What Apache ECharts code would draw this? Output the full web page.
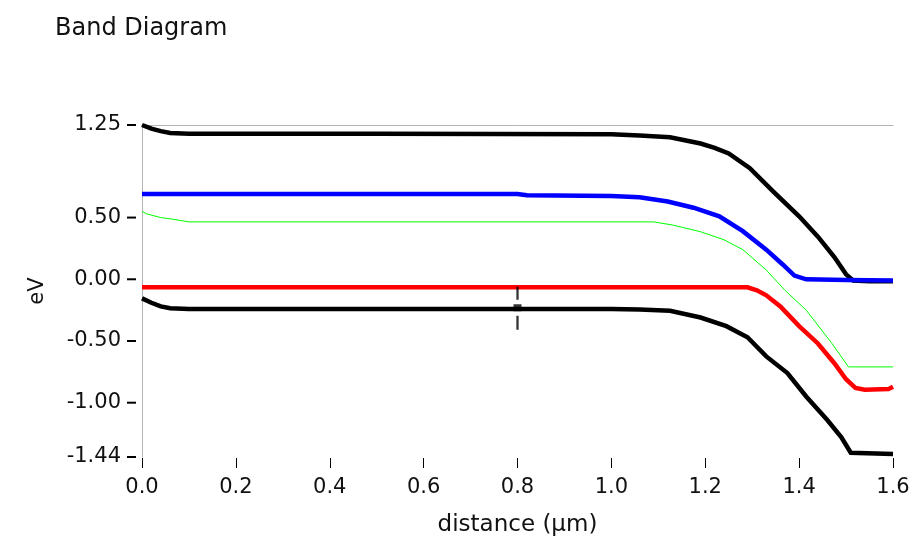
<!DOCTYPE html>
<html>
<head>
<meta charset="utf-8">
<script src="https://cdn.jsdelivr.net/npm/echarts@6/dist/echarts.min.js"></script>
<style>
html,body{margin:0;padding:0;background:#fff;}
#chart{width:917px;height:551px;}
</style>
</head>
<body>
<div id="chart"></div>
<script>
// ---- data (distance in µm, energy in eV) ----
const ecX = [0, 0.02, 0.04, 0.06, 0.10, 0.50, 1.00, 1.06, 1.125, 1.19, 1.22, 1.25, 1.295, 1.345, 1.40, 1.44, 1.475, 1.50, 1.515, 1.55, 1.60];
const ecY = [1.25, 1.22, 1.20, 1.185, 1.18, 1.18, 1.175, 1.165, 1.15, 1.10, 1.065, 1.02, 0.90, 0.71, 0.51, 0.345, 0.18, 0.04, -0.01, -0.015, -0.015];

const efnX = [0, 0.80, 0.82, 1.00, 1.06, 1.12, 1.175, 1.23, 1.28, 1.33, 1.365, 1.39, 1.415, 1.50, 1.60];
const efnY = [0.69, 0.69, 0.68, 0.675, 0.665, 0.63, 0.58, 0.51, 0.39, 0.24, 0.12, 0.03, 0.0, -0.005, -0.01];

const eiX = [0, 0.01, 0.04, 0.06, 0.10, 1.09, 1.13, 1.19, 1.24, 1.28, 1.33, 1.37, 1.415, 1.47, 1.505, 1.60];
const eiY = [0.55, 0.53, 0.50, 0.49, 0.465, 0.465, 0.44, 0.385, 0.32, 0.24, 0.075, -0.09, -0.25, -0.52, -0.71, -0.71];

const efpX = [0, 1.29, 1.31, 1.33, 1.36, 1.40, 1.44, 1.475, 1.50, 1.52, 1.54, 1.59, 1.60];
const efpY = [-0.065, -0.065, -0.09, -0.13, -0.22, -0.38, -0.52, -0.68, -0.81, -0.88, -0.895, -0.89, -0.87];

const evX = [0, 0.02, 0.04, 0.06, 0.10, 1.00, 1.06, 1.125, 1.19, 1.245, 1.29, 1.33, 1.375, 1.415, 1.46, 1.49, 1.51, 1.60];
const evY = [-0.155, -0.19, -0.22, -0.235, -0.24, -0.24, -0.245, -0.255, -0.31, -0.38, -0.47, -0.625, -0.76, -0.95, -1.14, -1.28, -1.405, -1.415];

const cursorPoint = [0.8, -0.235];

const yTickValues = [-1.44, -1.00, -0.50, 0.00, 0.50, 1.25];
const xMin = 0, xMax = 1.6, xStep = 0.2;
const yMin = -1.44, yMax = 1.25;

const titleText = 'Band Diagram';
const xName = 'distance (µm)';
const yName = 'eV';

function pairs(xs, ys) { return xs.map((x, i) => [x, ys[i]]); }

const FONT = 'DejaVu Sans';
const chart = echarts.init(document.getElementById('chart'), null, {renderer: 'canvas'});

function lineSeries(name, xs, ys, color, width, z) {
  return {
    name: name, type: 'line', data: pairs(xs, ys),
    xAxisIndex: 0, yAxisIndex: 0,
    showSymbol: false, symbol: 'none', smooth: false,
    lineStyle: {color: color, width: width, cap: 'butt', join: 'miter'},
    silent: true, animation: false, z: z
  };
}

chart.setOption({
  animation: false,
  backgroundColor: '#ffffff',
  title: {
    text: titleText, left: 50, top: 12,
    textStyle: {fontFamily: FONT, fontSize: 24, fontWeight: 'normal', color: '#111'}
  },
  grid: {left: 142, right: 24, top: 125, bottom: 94, containLabel: false},
  xAxis: [
    {
      type: 'value', min: xMin, max: xMax, interval: xStep, position: 'bottom', offset: 1,
      name: xName, nameLocation: 'middle', nameGap: 56,
      nameTextStyle: {fontFamily: FONT, fontSize: 23, color: '#111'},
      axisLine: {show: false, onZero: false},
      axisTick: {show: true, length: 10, lineStyle: {color: '#000', width: 1}},
      axisLabel: {margin: 19, fontFamily: FONT, fontSize: 21, color: '#111',
        formatter: v => v.toFixed(1)},
      splitLine: {show: false}
    },
    {
      type: 'value', min: xMin, max: xMax, position: 'top',
      axisLine: {show: true, onZero: false, lineStyle: {color: '#b4b4b4', width: 1}},
      axisTick: {show: false}, axisLabel: {show: false}, splitLine: {show: false}
    }
  ],
  yAxis: [
    {
      type: 'value', min: yMin, max: yMax, position: 'left',
      name: yName, nameLocation: 'middle', nameGap: 94, nameRotate: 90,
      nameTextStyle: {fontFamily: FONT, fontSize: 21, color: '#111'},
      axisLine: {show: true, onZero: false, lineStyle: {color: '#b4b4b4', width: 1}},
      axisTick: {show: false},
      axisLabel: {
        margin: 21, fontFamily: FONT, fontSize: 21, color: '#111',
        customValues: yTickValues,
        formatter: v => Number(v).toFixed(2)
      },
      splitLine: {show: false}
    }
  ],
  series: [
    lineSeries('Ev', evX, evY, '#000000', 4.5, 2),
    lineSeries('Efp', efpX, efpY, '#ff0000', 4.5, 3),
    lineSeries('Ei', eiX, eiY, '#00ff00', 1, 4),
    lineSeries('Ec', ecX, ecY, '#000000', 4.5, 5),
    lineSeries('Efn', efnX, efnY, '#0000ff', 4.5, 6),
    {
      name: 'cursor', type: 'scatter', xAxisIndex: 0, yAxisIndex: 0,
      data: [cursorPoint],
      symbol: 'path://M3,0L5,0L5,13L3,13Z M0.5,17.5L7.5,17.5L7.5,24.5L0.5,24.5Z M3,29L5,29L5,43L3,43Z',
      symbolSize: [8, 43], symbolKeepAspect: false,
      itemStyle: {color: '#000'}, silent: true, z: 10
    },
    {
      // y-axis tick marks at the custom tick values, left of the axis line
      name: 'yTicks', type: 'scatter', xAxisIndex: 0, yAxisIndex: 0,
      data: yTickValues.map(v => [xMin, v]),
      clip: false, silent: true, z: 10,
      symbol: 'rect', symbolSize: [9, 2], symbolOffset: [-10.5, 0],
      itemStyle: {color: '#000', opacity: 1}
    }
  ]
});
</script>
</body>
</html>
